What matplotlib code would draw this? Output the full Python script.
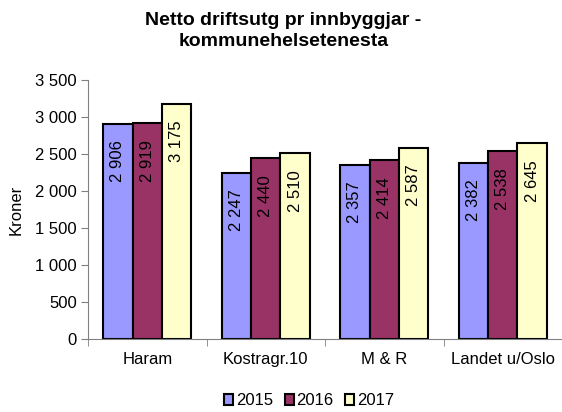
import matplotlib.pyplot as plt
import numpy as np

plt.rcParams['font.family'] = ['Liberation Sans', 'DejaVu Sans']

categories = ["Haram", "Kostragr.10", "M & R", "Landet u/Oslo"]
years = ["2015", "2016", "2017"]
values = {
    "2015": [2906, 2247, 2357, 2382],
    "2016": [2919, 2440, 2414, 2538],
    "2017": [3175, 2510, 2587, 2645],
}
colors = ["#9999FF", "#993366", "#FFFFCC"]

fig = plt.figure(figsize=(5.62, 4.12), dpi=100)
ax = fig.add_axes([0.1566, 0.177, 0.8434, 0.629])

x = np.arange(len(categories))
w = 0.248
for i, yr in enumerate(years):
    pos = x + (i - 1) * w
    ax.bar(pos, values[yr], width=w, color=colors[i], edgecolor="black",
           linewidth=1.5, label=yr, zorder=2)
    for p, v in zip(pos, values[yr]):
        s = f"{v:,}".replace(",", " ")
        ax.text(p, v - 225, s, rotation=90, ha="center", va="top", fontsize=12)

ax.set_xlim(-0.5, len(categories) - 0.5)
ax.set_ylim(0, 3500)
ticks = list(range(0, 3501, 500))
ax.set_yticks(ticks)
ax.set_yticklabels([f"{t:,}".replace(",", " ") for t in ticks], fontsize=12)
ax.set_xticks(x)
ax.set_xticklabels(categories, fontsize=12)
ax.set_xticks(np.arange(-0.5, len(categories)), minor=True)
ax.tick_params(axis="x", which="major", length=0, pad=9)
ax.tick_params(axis="x", which="minor", length=5)
ax.tick_params(axis="y", length=5, pad=3)
for sp in ["top", "right"]:
    ax.spines[sp].set_visible(False)
ax.spines["left"].set_color("#808080")
ax.spines["bottom"].set_color("#808080")
ax.tick_params(colors="#808080", labelcolor="black", which="both")
ax.set_ylabel("Kroner", fontsize=12, labelpad=8)

fig.suptitle("Netto driftsutg pr innbyggjar -\nkommunehelsetenesta", fontsize=14,
             fontweight="bold", x=0.504, y=0.97, linespacing=1.3)

fig.legend(loc="center", bbox_to_anchor=(0.55, 0.027), ncol=3, frameon=False,
           fontsize=12, handlelength=0.55, handleheight=0.55, handletextpad=0.15,
           columnspacing=0.7, borderpad=0)

fig.savefig("out.png", dpi=100)
